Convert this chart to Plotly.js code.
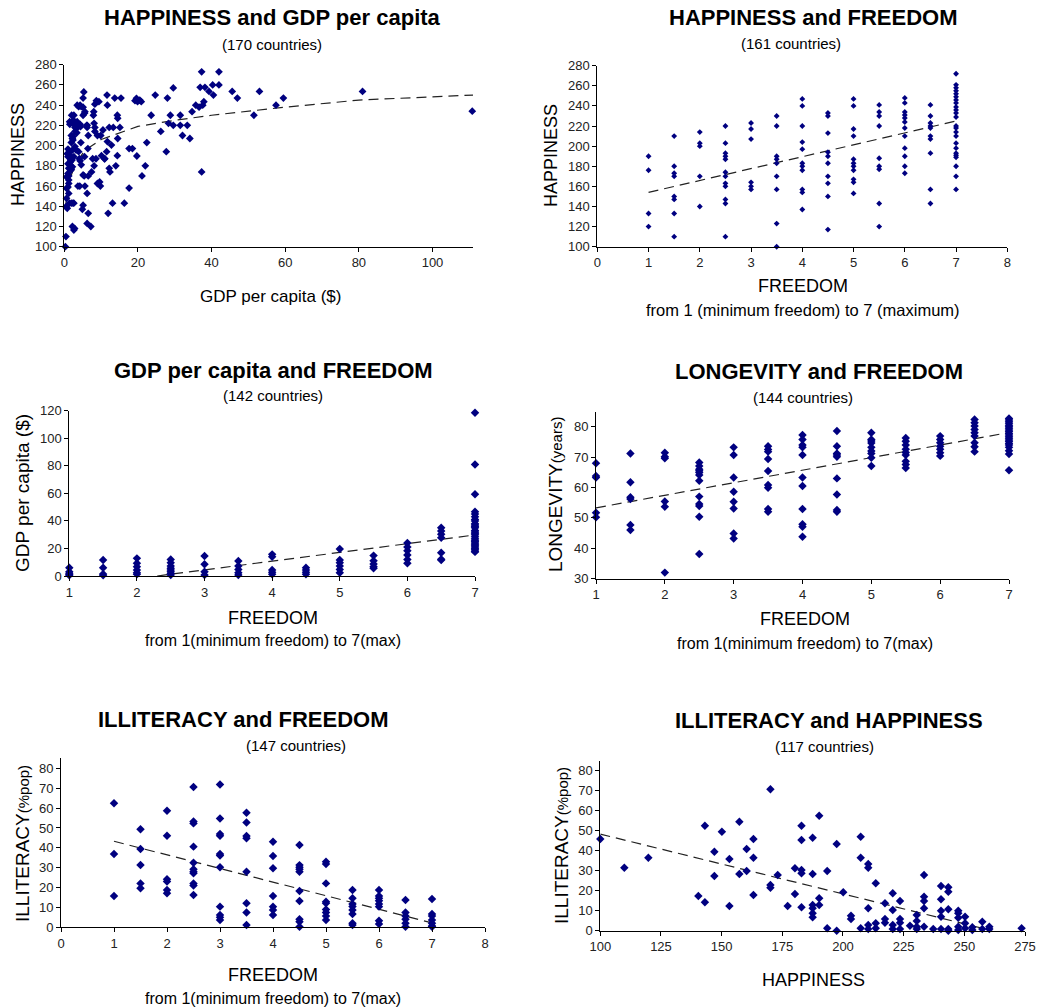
<!DOCTYPE html>
<html><head><meta charset="utf-8">
<script src="https://cdn.plot.ly/plotly-3.0.1.min.js"></script>
<style>html,body{margin:0;padding:0;background:#fff}</style>
</head><body><div id="chart" style="width:1050px;height:1007px"></div>
<script>
// ---------- Panel 1: HAPPINESS vs GDP per capita ----------
const gdpP1 = [110.8,81,59.5,57.5,53,51.5,47,45.6,42,42,40.3,40.5,39.3,38.2,37.3,36.9,37.3,37.9,37.6,36.6,35.7,34.7,34.1,33.4,32.1,31.5,31.5,29.6,29.6,28.8,28.3,28,27.7,26.2,24.7,23.6,22.4,22,21.1,19.9,20.5,19.6,19.2,20.9,19.7,18.5,17.6,17.6,16.3,15.4,15.1,14.4,14.5,14.5,14.4,14,13.7,13.3,12.8,13.1,12.2,12.4,12.2,11.9,11.6,11.7,11.5,11,10.1,9.9,9.4,9,9,9.6,8.6,8.1,8.3,8,8.7,8.3,8.3,7.7,7.9,7.4,7.2,6.5,6.2,6.5,6.2,6.5,6.2,6.2,5.6,5.4,5.6,5.3,5.1,5.1,5.1,5.1,4.9,4.6,4.5,4.3,4.3,4.3,4.1,3.9,3.7,3.5,3.9,3.5,3.2,2.9,2.6,2.6,2.2,2.2,2,2.2,1.9,2.4,1.9,1.5,1.4,1.2,1.2,1.2,1.2,1.0,1.0,1.0,0.8,0.6,0.6,0.6,0.45,0.3,0.45,1.5,1.7,1.9,2.1,2.6,2.9,2.5,2.9,3.4,3.2,2.2,1.45,2.35,2.6,3.3,1.0,1.2,1.0,1.9,2.35,1.45,3.3,4.4,3.9,4.6,5.5,6.1,6.4,5.5,5.1,4.2,2.35,1.9,0.8,2.8,1.7,9.8,10.5,11.7,10.9,8.1];
const happyP1 = [234,253.6,247,240,253.6,230,247,253.6,273,260,260,250,253.6,257.6,273,257.6,174,243.4,240,238,240,233.5,207,220,210,220,230,220,257,230,222,247,194,214,250,230,203,180,170,243.4,245,246.7,244.4,243.4,189.7,197,197,158,143,247,218,230,227,207,190,180,247,218,200.5,143,218,174,177.5,133,250,240,194,187,190,210,243.4,210,162.5,164,187,180,241,233.5,244.4,218,214,187,230,174,120,170,123,133,152.7,210,218,220,233.5,170,160,253,247,230,141,238,137,181,203,221,240,185,187,194,160,223.6,220,240,222.6,214,143,116.5,120,179,230,207,210,209,203,221,143,152.7,162.5,170,177.5,182,189,196.6,192,169,157.7,147.8,110,100,139.6,181,184,176,185.7,189,199,225,218,212.7,195.6,195.6,194,205.5,230,217,159,166,172.5,189,222,223.6,222,218.7,238.5,238.5,232,220,197,189,171,160,143,143,138,118,185.7,160,215.4,204,187,222];
const trendP1X = [0.35,0.7,1.5,3,5.5,10,20,30,40,60,80,111];
const trendP1Y = [139,152,167,181,195,206,219,225,230,238,245,250];

// ---------- Panel 2: HAPPINESS vs FREEDOM ----------
const freedomLevels = [1,1.5,2,2.5,3,3.5,4,4.5,5,5.5,6,6.5,7];
const happyByFreedom = [
  [190,176,133,120],
  [210,180,173,170,150,147,133,110],
  [214,203,200,170,140],
  [220,203,193,190,187,174,170,163,160,147,143,110],
  [223,217,207,164,160,157],
  [230,220,190,187,183,170,157,123,100],
  [247,240,220,204,197,183,180,176,157,154,137],
  [233,230,213,194,190,183,170,163,150,117],
  [247,240,217,210,187,183,180,176,167,164,153],
  [241,234,230,220,188,180,177,143,120],
  [248,243,234,231,228,224,218,210,198,190,180,173],
  [241,230,223,220,218,210,207,193,157,143],
  [272,261,258,255,252,249,246,243,239,236,233,229,220,218,214,210,203,198,193,191,189,180,170,157]
];
const trendP2X = [1,7];
const trendP2Y = [154,225];

// ---------- Panel 3: GDP per capita vs FREEDOM ----------
const gdpByFreedom = [
  [6,3,2,1,0.5],
  [11.6,6,1.5,0.5],
  [12.8,9.2,6.8,4.4,2.4,1.2],
  [12,9.7,7.3,5.6,4.4,3.1,1.9,0.7],
  [14.5,8.5,3.1,0.7],
  [10.9,7.3,4.8,2.4,0.7],
  [15.7,14,4.4,2.7,1.2],
  [6,4.4,2.7,1.2],
  [19.6,11.6,9.7,7.3,4.8,2.4],
  [14.8,11.1,8.7,6.8,5.6],
  [24,21,18.4,15.2,12,9.2],
  [35,32.7,30.3,27.8,16.9,12.1,11.6],
  [118.5,81,59.3,46.7,45,43,41,40,38,37,36,35,33,32,31,30,28.5,27,26,25,24,23,22,21,20,19,18,17.5]
];
const trendP3X = [2.3,7];
const trendP3Y = [0,29.8];

// ---------- Panel 4: LONGEVITY vs FREEDOM ----------
const longevityByFreedom = [
  [68,63.8,63.3,51.7,50.2],
  [71.2,61.7,56.8,56.2,47.7,46],
  [71.4,70.1,69.6,55.4,53.7,32],
  [68.2,67.1,66,65.5,64.9,64.1,62.2,57,54.6,53.9,50.4,38.1],
  [73.2,70.7,63.3,58.6,55.3,53.1,44.9,43.2],
  [73.6,72.5,71.8,69.4,65.4,60.8,59.9,52.9,52],
  [77.3,75.8,74,73.2,70.7,63.3,60.5,52.9,47.9,47.1,43.8],
  [78.6,73.6,71.2,70.7,70.1,63,57.7,52.6,52],
  [78,75.8,75.3,74.6,73.2,72,71.2,69.8,67.1],
  [76.3,75.2,74,72.6,71.5,70.7,68.6,67.6,66.4],
  [76.9,75.8,74.7,73.6,72.6,71.4,70.4],
  [82.4,81.3,80.2,79.1,78,76.9,74.7,73.4,71.8],
  [82.7,82.2,81.6,81.1,80.5,80,79.5,78.9,78.4,77.8,77.3,76.7,76.2,75.6,75.1,74.5,74,73.2,72.1,71,65.7]
];
const trendP4X = [1,7];
const trendP4Y = [53.3,78.1];

// ---------- Panel 5: ILLITERACY vs FREEDOM ----------
const illiteracyByFreedom = [
  [62.4,36.9,15.8],
  [49.3,39.4,31.4,22.1,19.6],
  [58.7,46.1,24.2,23,18.8,17.1],
  [70.6,53.2,52.3,40.6,32.5,29.2,28,27.2,22.1,21,16.3],
  [71.9,54.8,47,46.1,36.9,36.1,30.2,10.4,6.2,5,3.7],
  [57.7,52.7,45.9,44.8,28,12.1,7.4,1.2],
  [43.1,35.9,29.7,15.7,10.4,8.7,6.2],
  [41.4,31.3,30.2,29.2,28,18.3,13.2,4,2.8,0.3],
  [33,31.9,22.1,12.9,12.1,9,7.4,5.7,3.7],
  [18.8,14.6,11.7,10.5,8.7,6.7,2,1.2],
  [18.8,15.7,14.6,13.4,11.7,10.4,3.3,1.7],
  [13.7,7.4,5.7,4,2,0.3],
  [14.2,6.7,5.7,3.7,2,0.7,0.3]
];
const trendP5X = [1,7];
const trendP5Y = [43.3,2.2];

// ---------- Panel 6: ILLITERACY vs HAPPINESS ----------
const happyP6 = [100,109.9,119.8,140.4,143.1,143.1,147,147,150.1,153.2,153.2,157.3,157.3,160.3,160.3,163.1,163.1,163.1,170.1,170.1,170.1,173.1,177.2,180.2,180.2,182.9,182.9,182.9,182.9,182.9,187.5,187.5,187.5,187.5,187.5,187.5,190.2,190.2,190.2,193.5,193.5,197.4,197.4,200.1,203.3,203.3,207.3,207.3,207.3,210.4,210.4,210.4,210.4,210.4,213.5,213.5,213.5,217.3,217.3,217.3,220.5,220.5,220.5,220.5,223.5,223.5,223.5,223.5,227.6,230.4,230.4,230.4,230.4,233.4,233.4,233.4,233.4,233.4,237.2,240.4,240.4,240.4,240.4,240.4,243.4,243.4,243.4,243.4,243.4,247.5,247.5,247.5,247.5,247.5,250.3,250.3,250.3,253.3,253.3,257.4,257.4,260.3,260.3,273.6];
const illiteracyP6 = [45.8,31.5,36.5,17.3,52.5,14.2,39.5,27.3,49.5,35.8,12.3,54.5,28.3,40.8,29.8,45.8,36.5,17.8,70.7,22.8,21.5,27.8,12.3,31.2,18.3,52.5,45.3,30.3,28.7,11.7,46.5,28.3,12.8,11.2,8.7,6.7,57.5,16.2,12.8,29.8,1.2,43.3,0,19.2,7.5,5.8,47,36.5,1.2,33.3,31.5,11.2,2.8,0.8,23.7,3.7,1.2,13.7,5.8,4,18.7,10.3,2.8,0.8,14.8,5.8,4,0.8,2.5,7.8,4.8,2,0.8,27.8,17,14.8,11.2,2,0.8,22.3,15.7,10,7,0.8,21.7,19.5,10.7,0.8,0,10,8.7,6.5,2,0.3,7,3.7,1.2,1.7,0.3,4.5,0.8,2,0.8,1.2];
const trendP6X = [100,261.5];
const trendP6Y = [48.3,0];

// ---------- tick values ----------
const ticksP1X = [0,20,40,60,80,100], ticksP1Y = [100,120,140,160,180,200,220,240,260,280];
const ticksP2X = [0,1,2,3,4,5,6,7,8], ticksP2Y = ticksP1Y;
const ticksP3X = [1,2,3,4,5,6,7], ticksP3Y = [0,20,40,60,80,100,120];
const ticksP4X = ticksP3X, ticksP4Y = [30,40,50,60,70,80];
const ticksP5X = ticksP2X, ticksP5Y = [0,10,20,30,40,50,60,70,80];
const ticksP6X = [100,125,150,175,200,225,250,275], ticksP6Y = ticksP5Y;

// ---------- build ----------
function flatten(levels, groups){
  const x=[],y=[];
  groups.forEach((g,i)=>g.forEach(v=>{x.push(levels[i]);y.push(v);}));
  return {x,y};
}
const W=1050,H=1007;
const NAVY='#000080';
const FONT='"Liberation Sans", Arial, sans-serif';
const boxes = [
  [64.3,473,64.7,246.7],
  [597.3,1007.3,65.7,246.7],
  [69.3,475,410.7,576],
  [596,1009,411.5,578.7],
  [61,485,758.4,927.3],
  [600.3,1025,760.7,930.7]
];
const xr = [[0,111],[0,8],[1,7],[1,7],[0,8],[100,275]];
const yr = [[100,280],[100,280],[0,120],[30,85],[0,85],[0,85]];
const xt = [ticksP1X,ticksP2X,ticksP3X,ticksP4X,ticksP5X,ticksP6X];
const yt = [ticksP1Y,ticksP2Y,ticksP3Y,ticksP4Y,ticksP5Y,ticksP6Y];

const p2 = flatten(freedomLevels, happyByFreedom);
const p3 = flatten(freedomLevels, gdpByFreedom);
const p4 = flatten(freedomLevels, longevityByFreedom);
const p5 = flatten(freedomLevels, illiteracyByFreedom);
const pts = [
  {x:gdpP1,y:happyP1,s:6},
  {x:p2.x,y:p2.y,s:4.5},
  {x:p3.x,y:p3.y,s:6.5},
  {x:p4.x,y:p4.y,s:6.5},
  {x:p5.x,y:p5.y,s:6.5},
  {x:happyP6,y:illiteracyP6,s:6.5}
];
const trends = [
  [trendP1X,trendP1Y],[trendP2X,trendP2Y],[trendP3X,trendP3Y],
  [trendP4X,trendP4Y],[trendP5X,trendP5Y],[trendP6X,trendP6Y]
];

const data=[]; const layout={
  width:W,height:H,margin:{l:0,r:0,t:0,b:0},
  paper_bgcolor:'#fff',plot_bgcolor:'#fff',showlegend:false,
  font:{family:FONT,color:'#000'},annotations:[]
};
for(let i=0;i<6;i++){
  const sfx = i===0?'':String(i+1);
  const b = boxes[i];
  const ax = {
    domain:[b[0]/W,b[1]/W], range:xr[i], tickmode:'array', tickvals:xt[i],
    showline:true, linecolor:'#000', linewidth:1, ticks:'outside', ticklen:4, tickcolor:'#000',
    showgrid:false, zeroline:false, tickfont:{size:13,color:'#222',family:FONT},
    anchor:'y'+sfx, fixedrange:true
  };
  const ay = {
    domain:[1-b[3]/H,1-b[2]/H], range:yr[i], tickmode:'array', tickvals:yt[i],
    showline:true, linecolor:'#000', linewidth:1, ticks:'outside', ticklen:4, tickcolor:'#000',
    showgrid:false, zeroline:false, tickfont:{size:13,color:'#222',family:FONT},
    anchor:'x'+sfx, fixedrange:true
  };
  layout['xaxis'+sfx]=ax; layout['yaxis'+sfx]=ay;
  data.push({type:'scatter',mode:'lines',x:trends[i][0],y:trends[i][1],xaxis:'x'+sfx,yaxis:'y'+sfx,
    line:{color:'#222',width:1.2,dash:'10px,6px'},hoverinfo:'skip'});
  data.push({type:'scatter',mode:'markers',x:pts[i].x,y:pts[i].y,xaxis:'x'+sfx,yaxis:'y'+sfx,
    cliponaxis:false,marker:{symbol:'diamond',size:pts[i].s,color:NAVY,line:{width:0}}});
}
function ann(text,px,py,size,angle){
  layout.annotations.push({text:text,xref:'paper',yref:'paper',x:px/W,y:1-py/H,
    xanchor:'center',yanchor:'middle',showarrow:false,textangle:angle||0,
    font:{family:FONT,size:size,color:'#000'}});
}
// titles
ann('<b>HAPPINESS and GDP per capita</b>',272.5,18,22);
ann('(170 countries)',272,45,15);
ann('<b>HAPPINESS and FREEDOM</b>',812.5,18,22);
ann('(161 countries)',791,44,15);
ann('<b>GDP per capita and FREEDOM</b>',273,370,22);
ann('(142 countries)',272.5,395,15);
ann('<b>LONGEVITY and FREEDOM</b>',818.5,371,22);
ann('(144 countries)',802.5,397,15);
ann('<b>ILLITERACY and FREEDOM</b>',243,719,22);
ann('(147 countries)',296,745,15);
ann('<b>ILLITERACY and HAPPINESS</b>',828.5,720,22);
ann('(117 countries)',824,746,15);
// axis titles
ann('GDP per capita ($)',270,296,17);
ann('HAPPINESS',18,155,18,-90);
ann('FREEDOM',802.5,286,18);
ann('from 1 (minimum freedom) to 7 (maximum)',802.5,310,16.5);
ann('HAPPINESS',551,156,18,-90);
ann('FREEDOM',272.5,618,18);
ann('from 1(minimum freedom) to 7(max)',272.7,640,16);
ann('GDP per capita ($)',22,493,19,-90);
ann('FREEDOM',805,619,18);
ann('from 1(minimum freedom) to 7(max)',805,643,16);
ann('LONGEVITY<span style="font-size:15px">(years)</span>',555,495,19,-90);
ann('FREEDOM',272.5,975,18);
ann('from 1(minimum freedom) to 7(max)',272.7,998,16);
ann('ILLITERACY<span style="font-size:15px">(%pop)</span>',22,844,19,-90);
ann('HAPPINESS',813,980,18);
ann('ILLITERACY<span style="font-size:15px">(%pop)</span>',561,846,19,-90);

Plotly.newPlot('chart',data,layout,{displayModeBar:false,staticPlot:true});
</script></body></html>
